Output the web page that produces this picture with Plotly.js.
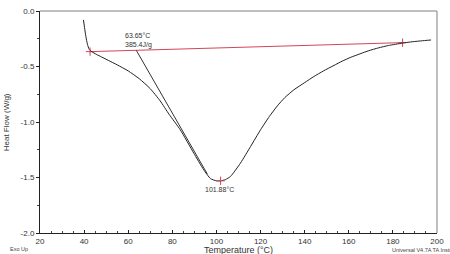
<!DOCTYPE html>
<html>
<head>
<meta charset="utf-8">
<script src="https://cdn.plot.ly/plotly-3.0.1.min.js"></script>
<style>html,body{margin:0;padding:0;background:#fff;}#chart{width:450px;height:254px;}</style>
</head>
<body>
<div id="chart"></div>
<script>
// DSC curve: temperature (°C) and heat flow (W/g)
const tempC = [39.7, 40.2, 40.8, 41.5, 42.3, 43.5, 45.5, 48.0, 51.0, 55.0, 60.0, 65.0, 70.0, 74.5, 78.5, 83.6, 89.7, 94.2, 97.3, 100.0, 101.8, 104.0, 106.4, 110.9, 115.5, 120.0, 124.0, 127.6, 131.0, 135.1, 140.0, 144.2, 148.5, 153.3, 157.0, 160.9, 165.5, 169.0, 173.5, 178.0, 184.4, 188.0, 191.8, 195.0, 197.3];
const heatFlow = [-0.08, -0.15, -0.23, -0.30, -0.345, -0.367, -0.39, -0.415, -0.445, -0.485, -0.54, -0.61, -0.70, -0.81, -0.93, -1.07, -1.28, -1.43, -1.51, -1.53, -1.53, -1.52, -1.49, -1.37, -1.22, -1.07, -0.95, -0.855, -0.78, -0.71, -0.645, -0.59, -0.54, -0.49, -0.452, -0.417, -0.383, -0.358, -0.332, -0.311, -0.289, -0.279, -0.271, -0.265, -0.261];

// baseline (integration limits)
const baselineT = [42.7, 184.4];
const baselineHF = [-0.366, -0.285];

// onset tangent
const tangentT = [63.65, 95.9];
const tangentHF = [-0.354, -1.47];

// peak
const peakT = [101.88];
const peakHF = [-1.53];

const xTickVals = [20, 40, 60, 80, 100, 120, 140, 160, 180, 200];
const xTickText = ['20', '40', '60', '80', '100', '120', '140', '160', '180', '200'];
const yTickVals = [0, -0.5, -1.0, -1.5, -2.0];
const yTickText = ['0.0', '-0.5', '-1.0', '-1.5', '-2.0'];

const onsetLabel = '63.65°C<br>385.4J/g';
const peakLabel = '101.88°C';

const red = '#d24658';
const font = 'Liberation Sans, Arial, sans-serif';

const traces = [
  {x: baselineT, y: baselineHF, mode: 'lines+markers', line: {color: red, width: 1},
   marker: {symbol: 'cross-thin', size: 6, line: {color: red, width: 1}}, hoverinfo: 'skip'},
  {x: tangentT, y: tangentHF, mode: 'lines', line: {color: '#333', width: 1}, hoverinfo: 'skip'},
  {x: tempC, y: heatFlow, mode: 'lines', line: {color: '#222', width: 1, shape: 'spline', smoothing: 0.5}},
  {x: peakT, y: peakHF, mode: 'markers',
   marker: {symbol: 'cross-thin', size: 6, line: {color: red, width: 1}}, hoverinfo: 'skip'}
];

const layout = {
  width: 450, height: 254,
  margin: {l: 40, r: 13, t: 11, b: 21},
  showlegend: false,
  paper_bgcolor: '#fff', plot_bgcolor: '#fff',
  font: {family: font, size: 8, color: '#333'},
  xaxis: {
    range: [20, 200], tickvals: xTickVals, ticktext: xTickText,
    showgrid: false, zeroline: false, showline: true, linecolor: '#222', linewidth: 1,
    ticks: 'inside', ticklen: 3, tickcolor: '#222', tickfont: {size: 8, color: '#333'},
    minor: {dtick: 5, ticks: 'inside', ticklen: 2, tickcolor: '#444', showgrid: false}
  },
  yaxis: {
    range: [-2.0, 0.0], tickvals: yTickVals, ticktext: yTickText,
    showgrid: false, zeroline: false, showline: true, linecolor: '#222', linewidth: 1,
    ticks: 'outside', ticklen: 3, tickcolor: '#222', tickfont: {size: 8, color: '#333'},
    minor: {dtick: 0.25, ticks: 'outside', ticklen: 2, tickcolor: '#444', showgrid: false}
  },
  shapes: [
    {type: 'line', xref: 'paper', yref: 'paper', x0: 0, x1: 1, y0: 1, y1: 1, line: {color: '#aaa', width: 1.5}},
    {type: 'line', xref: 'paper', yref: 'paper', x0: 1, x1: 1, y0: 0, y1: 1, line: {color: '#aaa', width: 1.5}}
  ],
  annotations: [
    {x: 57.7, y: -0.266, xref: 'x', yref: 'y', text: onsetLabel, showarrow: false, xanchor: 'left', yanchor: 'middle', align: 'left', font: {size: 7, color: '#333'}},
    {x: 101.4, y: -1.604, xref: 'x', yref: 'y', text: peakLabel, showarrow: false, xanchor: 'center', yanchor: 'middle', font: {size: 7, color: '#333'}},
    {x: 0.5, y: -0.077, xref: 'paper', yref: 'paper', text: 'Temperature (°C)', showarrow: false, xanchor: 'center', yanchor: 'middle', font: {size: 9, color: '#333'}},
    {x: -0.085, y: 0.5, xref: 'paper', yref: 'paper', text: 'Heat Flow (W/g)', showarrow: false, textangle: -90, xanchor: 'center', yanchor: 'middle', font: {size: 8, color: '#333'}},
    {x: -0.08, y: -0.072, xref: 'paper', yref: 'paper', text: 'Exo Up', showarrow: false, xanchor: 'left', yanchor: 'middle', font: {size: 5.5, color: '#444'}},
    {x: 0.882, y: -0.077, xref: 'paper', yref: 'paper', text: 'Universal V4.7A TA Instruments', showarrow: false, xanchor: 'left', yanchor: 'middle', font: {size: 5.5, color: '#444'}}
  ]
};

Plotly.newPlot('chart', traces, layout, {staticPlot: true, displayModeBar: false});
</script>
</body>
</html>
